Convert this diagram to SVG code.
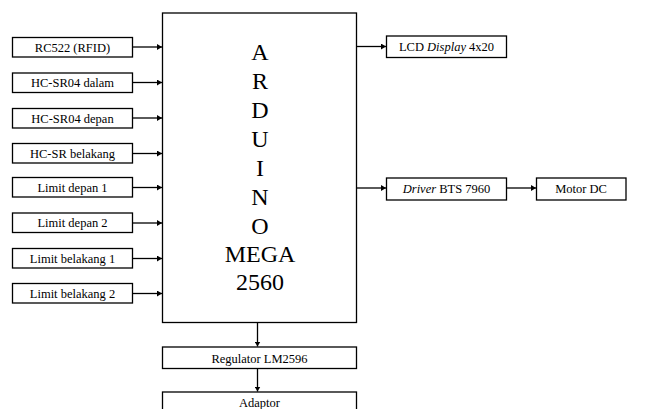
<svg xmlns="http://www.w3.org/2000/svg" width="648" height="409" viewBox="0 0 648 409">
<style>
.box{fill:#fff;stroke:#000;stroke-width:1.3}
.t{font-family:"Liberation Serif","Times New Roman",serif;font-size:12.5px;fill:#000;text-anchor:middle}
.big{font-family:"Liberation Serif","Times New Roman",serif;font-size:24px;fill:#000;text-anchor:middle}
.c{stroke:#000;stroke-width:1.3;fill:none;marker-end:url(#ah)}
</style>
<defs>
<marker id="ah" markerWidth="6" markerHeight="6" refX="5" refY="3" orient="auto" markerUnits="userSpaceOnUse">
<path d="M0,0 L5,3 L0,6 Z" fill="#000"/>
</marker>
</defs>
<g id="arduino"><rect class="box" x="162.5" y="13" width="194" height="309.5"/>
<text class="big" x="260" y="60">A</text>
<text class="big" x="260" y="89">R</text>
<text class="big" x="260" y="118">D</text>
<text class="big" x="260" y="147">U</text>
<text class="big" x="260" y="176">I</text>
<text class="big" x="260" y="205">N</text>
<text class="big" x="260" y="234">O</text>
<text class="big" x="260" y="262">MEGA</text>
<text class="big" x="260" y="290">2560</text></g>
<g id="rc522"><rect class="box" x="12.5" y="37.5" width="120" height="19.5"/><text class="t" x="72.5" y="51.5">RC522 (RFID)</text></g>
<g id="hcsr04dalam"><rect class="box" x="12.5" y="73" width="120" height="19.5"/><text class="t" x="72.5" y="87">HC-SR04 dalam</text></g>
<g id="hcsr04depan"><rect class="box" x="12.5" y="108.5" width="120" height="19.5"/><text class="t" x="72.5" y="122.5">HC-SR04 depan</text></g>
<g id="hcsrbelakang"><rect class="box" x="12.5" y="143.5" width="120" height="19.5"/><text class="t" x="72.5" y="157.5">HC-SR belakang</text></g>
<g id="limitdepan1"><rect class="box" x="12.5" y="177.5" width="120" height="19.5"/><text class="t" x="72.5" y="191.5">Limit depan 1</text></g>
<g id="limitdepan2"><rect class="box" x="12.5" y="213" width="120" height="19.5"/><text class="t" x="72.5" y="227">Limit depan 2</text></g>
<g id="limitbelakang1"><rect class="box" x="12.5" y="248.5" width="120" height="19.5"/><text class="t" x="72.5" y="262.5">Limit belakang 1</text></g>
<g id="limitbelakang2"><rect class="box" x="12.5" y="283.5" width="120" height="19.5"/><text class="t" x="72.5" y="297.5">Limit belakang 2</text></g>
<g id="lcd"><rect class="box" x="386.5" y="36" width="120" height="21.5"/><text class="t" x="446.5" y="51">LCD <tspan font-style="italic">Display</tspan> 4x20</text></g>
<g id="driver"><rect class="box" x="386.5" y="178" width="120" height="22"/><text class="t" x="446.5" y="193">
<tspan font-style="italic">Driver</tspan> BTS 7960</text></g>
<g id="motor"><rect class="box" x="536.5" y="178" width="89.5" height="22"/><text class="t" x="581" y="193">Motor DC</text></g>
<g id="regulator"><rect class="box" x="162.5" y="347" width="194" height="21.5"/><text class="t" x="259.5" y="362.5">Regulator LM2596</text></g>
<g id="adaptor"><rect class="box" x="162.5" y="392" width="194" height="30"/><text class="t" x="259.5" y="407">Adaptor</text></g>
<g id="connectors">
<line class="c" x1="133" y1="47" x2="162" y2="47"/>
<line class="c" x1="133" y1="82.5" x2="162" y2="82.5"/>
<line class="c" x1="133" y1="118" x2="162" y2="118"/>
<line class="c" x1="133" y1="153.5" x2="162" y2="153.5"/>
<line class="c" x1="133" y1="187.5" x2="162" y2="187.5"/>
<line class="c" x1="133" y1="223" x2="162" y2="223"/>
<line class="c" x1="133" y1="258.5" x2="162" y2="258.5"/>
<line class="c" x1="133" y1="293.5" x2="162" y2="293.5"/>
<line class="c" x1="357" y1="46.5" x2="386" y2="46.5"/>
<line class="c" x1="357" y1="188" x2="386" y2="188"/>
<line class="c" x1="507" y1="188" x2="536" y2="188"/>
<line class="c" x1="257.5" y1="323" x2="257.5" y2="346.5"/>
<line class="c" x1="257.5" y1="369" x2="257.5" y2="391.5"/>
</g>
</svg>
